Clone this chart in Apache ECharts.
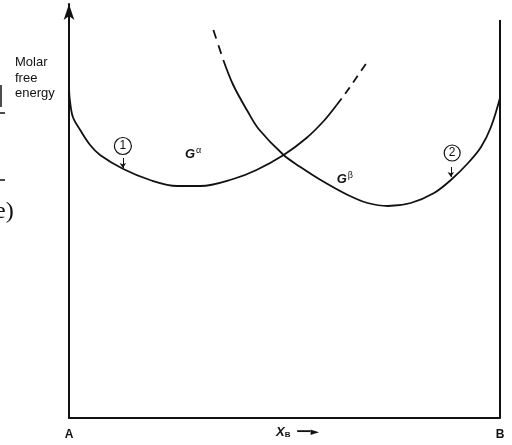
<!DOCTYPE html>
<html>
<head>
<meta charset="utf-8">
<script src="https://cdn.jsdelivr.net/npm/echarts@6/dist/echarts.min.js"></script>
<style>
    html, body { margin: 0; padding: 0; background: #fff; }
    #chart { width: 512px; height: 445px; }
</style>
</head>
<body>
<div id="chart"></div>
<script>
    // composition X_B (0 = A, 1 = B) and molar free energy (arbitrary units)
    var alphaX     = [0.000, 0.002, 0.009, 0.026, 0.049, 0.072, 0.126, 0.188, 0.251, 0.305, 0.381, 0.435, 0.498, 0.551, 0.591, 0.621];
    var alphaG     = [330,   318,   301,   288,   273,   263,   249,   238,   232,   232,   239,   248,   263,   280,   297,   313];
    var alphaDashX = [0.621, 0.637, 0.660, 0.695];
    var alphaDashG = [313,   322,   336,   358];

    var betaDashX  = [0.335, 0.358];
    var betaDashG  = [388,   358];
    var betaX      = [0.358, 0.381, 0.414, 0.440, 0.498, 0.537, 0.584, 0.647, 0.693, 0.740, 0.793, 0.847, 0.886, 0.926, 0.956, 0.979, 1.000];
    var betaG      = [358,   333,   307,   289,   263,   251,   238,   223,   215,   212,   215,   225,   238,   255,   271,   291,   320];

    var rightAxisG = [0, 398];
    var endLabels  = {0: 'A', 1: 'B'};

    function zip(xs, ys) {
        return xs.map(function (x, i) { return [x, ys[i]]; });
    }

    function extend(base, extra) {
        var out = {};
        Object.keys(base).forEach(function (k) { out[k] = base[k]; });
        Object.keys(extra).forEach(function (k) { out[k] = extra[k]; });
        return out;
    }

    var black = '#111';
    var font = '"Liberation Sans", Arial, sans-serif';

    var curveBase = {
        type: 'line',
        symbol: 'none',
        smooth: 0.35,
        silent: true,
        lineStyle: { color: black, width: 1.8 }
    };

    var supRich = {
        g: { fontFamily: font, fontStyle: 'italic', fontWeight: 'bold', fontSize: 13, color: black },
        s: { fontFamily: font, fontSize: 9, color: black, verticalAlign: 'top', padding: [0, 0, 6, 1] }
    };

    var chart = echarts.init(document.getElementById('chart'), null, {renderer: 'canvas'});
    chart.setOption({
        animation: false,
        backgroundColor: '#fff',
        grid: { left: 69, right: 12, top: 4, bottom: 27, containLabel: false, outerBoundsMode: 'none' },
        xAxis: {
            type: 'value',
            min: 0, max: 1, interval: 1,
            splitLine: { show: false },
            axisTick: { show: false },
            axisLine: { lineStyle: { color: black, width: 2 } },
            axisLabel: {
                margin: 11,
                color: black,
                fontFamily: font,
                fontWeight: 'bold',
                fontSize: 12,
                formatter: function (v) { return endLabels[v] || ''; }
            },
            name: '{x|X}{sub|B}  {arr|━━►}',
            nameLocation: 'middle',
            nameGap: 7,
            nameMoveOverlap: false,
            nameTextStyle: {
                padding: [0, 0, 0, 26],
                rich: {
                    x: { fontFamily: font, fontStyle: 'italic', fontWeight: 'bold', fontSize: 13, color: black },
                    sub: { fontFamily: font, fontWeight: 'bold', fontSize: 8, color: black, verticalAlign: 'bottom', padding: [6, 0, 0, 0] },
                    arr: { fontFamily: '"DejaVu Sans"', fontSize: 11, color: black }
                }
            }
        },
        yAxis: {
            type: 'value',
            min: 0, max: 414,
            splitLine: { show: false },
            axisTick: { show: false },
            axisLabel: { show: false },
            axisLine: {
                lineStyle: { color: black, width: 2 },
                symbol: ['none', 'arrow'],
                symbolSize: [8, 16]
            }
        },
        graphic: [
            {
                type: 'text', left: 15, top: 55,
                style: { text: 'Molar\nfree\nenergy', font: '13px ' + font, lineHeight: 15.5, fill: black }
            },
            // scan remnants of the neighbouring page
            { type: 'line', shape: { x1: 1, y1: 85, x2: 1, y2: 107 }, style: { stroke: black, lineWidth: 1.5 } },
            { type: 'line', shape: { x1: 0, y1: 113, x2: 5, y2: 113 }, style: { stroke: black, lineWidth: 1.5 } },
            { type: 'line', shape: { x1: 0, y1: 180, x2: 5, y2: 180 }, style: { stroke: black, lineWidth: 1.5 } },
            {
                type: 'text', left: -5, top: 200,
                style: { text: 'e)', font: '24px "Liberation Serif", serif', fill: black }
            }
        ],
        series: [
            extend(curveBase, {
                name: 'G alpha',
                data: zip(alphaX, alphaG),
                markPoint: {
                    silent: true,
                    data: [
                        {
                            coord: [0.125, 272], symbol: 'circle', symbolSize: 17,
                            itemStyle: { color: 'rgba(0,0,0,0)', borderColor: black, borderWidth: 1.2 },
                            label: { show: true, formatter: '1', color: black, fontFamily: font, fontSize: 12 }
                        },
                        {
                            coord: [0.288, 264], symbol: 'circle', symbolSize: 0,
                            label: { show: true, formatter: '{g|G}{s|α}', rich: supRich }
                        }
                    ]
                },
                markLine: {
                    silent: true,
                    symbol: ['none', 'arrow'],
                    symbolSize: 5,
                    label: { show: false },
                    lineStyle: { color: black, width: 1, type: 'solid' },
                    data: [[{ coord: [0.125, 260] }, { coord: [0.125, 250] }]]
                }
            }),
            extend(curveBase, {
                name: 'G alpha metastable',
                data: zip(alphaDashX, alphaDashG),
                lineStyle: { color: black, width: 1.8, type: [8, 6] }
            }),
            extend(curveBase, {
                name: 'G beta',
                data: zip(betaX, betaG),
                markPoint: {
                    silent: true,
                    data: [
                        {
                            coord: [0.889, 265], symbol: 'circle', symbolSize: 16,
                            itemStyle: { color: 'rgba(0,0,0,0)', borderColor: black, borderWidth: 1.2 },
                            label: { show: true, formatter: '2', color: black, fontFamily: font, fontSize: 12 }
                        },
                        {
                            coord: [0.640, 239], symbol: 'circle', symbolSize: 0,
                            label: { show: true, formatter: '{g|G}{s|β}', rich: supRich }
                        }
                    ]
                },
                markLine: {
                    silent: true,
                    symbol: ['none', 'arrow'],
                    symbolSize: 5,
                    label: { show: false },
                    lineStyle: { color: black, width: 1, type: 'solid' },
                    data: [[{ coord: [0.886, 251] }, { coord: [0.886, 241] }]]
                }
            }),
            extend(curveBase, {
                name: 'G beta metastable',
                data: zip(betaDashX, betaDashG),
                lineStyle: { color: black, width: 1.8, type: [9, 7] }
            }),
            {
                name: 'B axis',
                type: 'line',
                symbol: 'none',
                silent: true,
                data: zip([1, 1], rightAxisG),
                lineStyle: { color: black, width: 2 }
            }
        ]
    });
</script>
</body>
</html>
